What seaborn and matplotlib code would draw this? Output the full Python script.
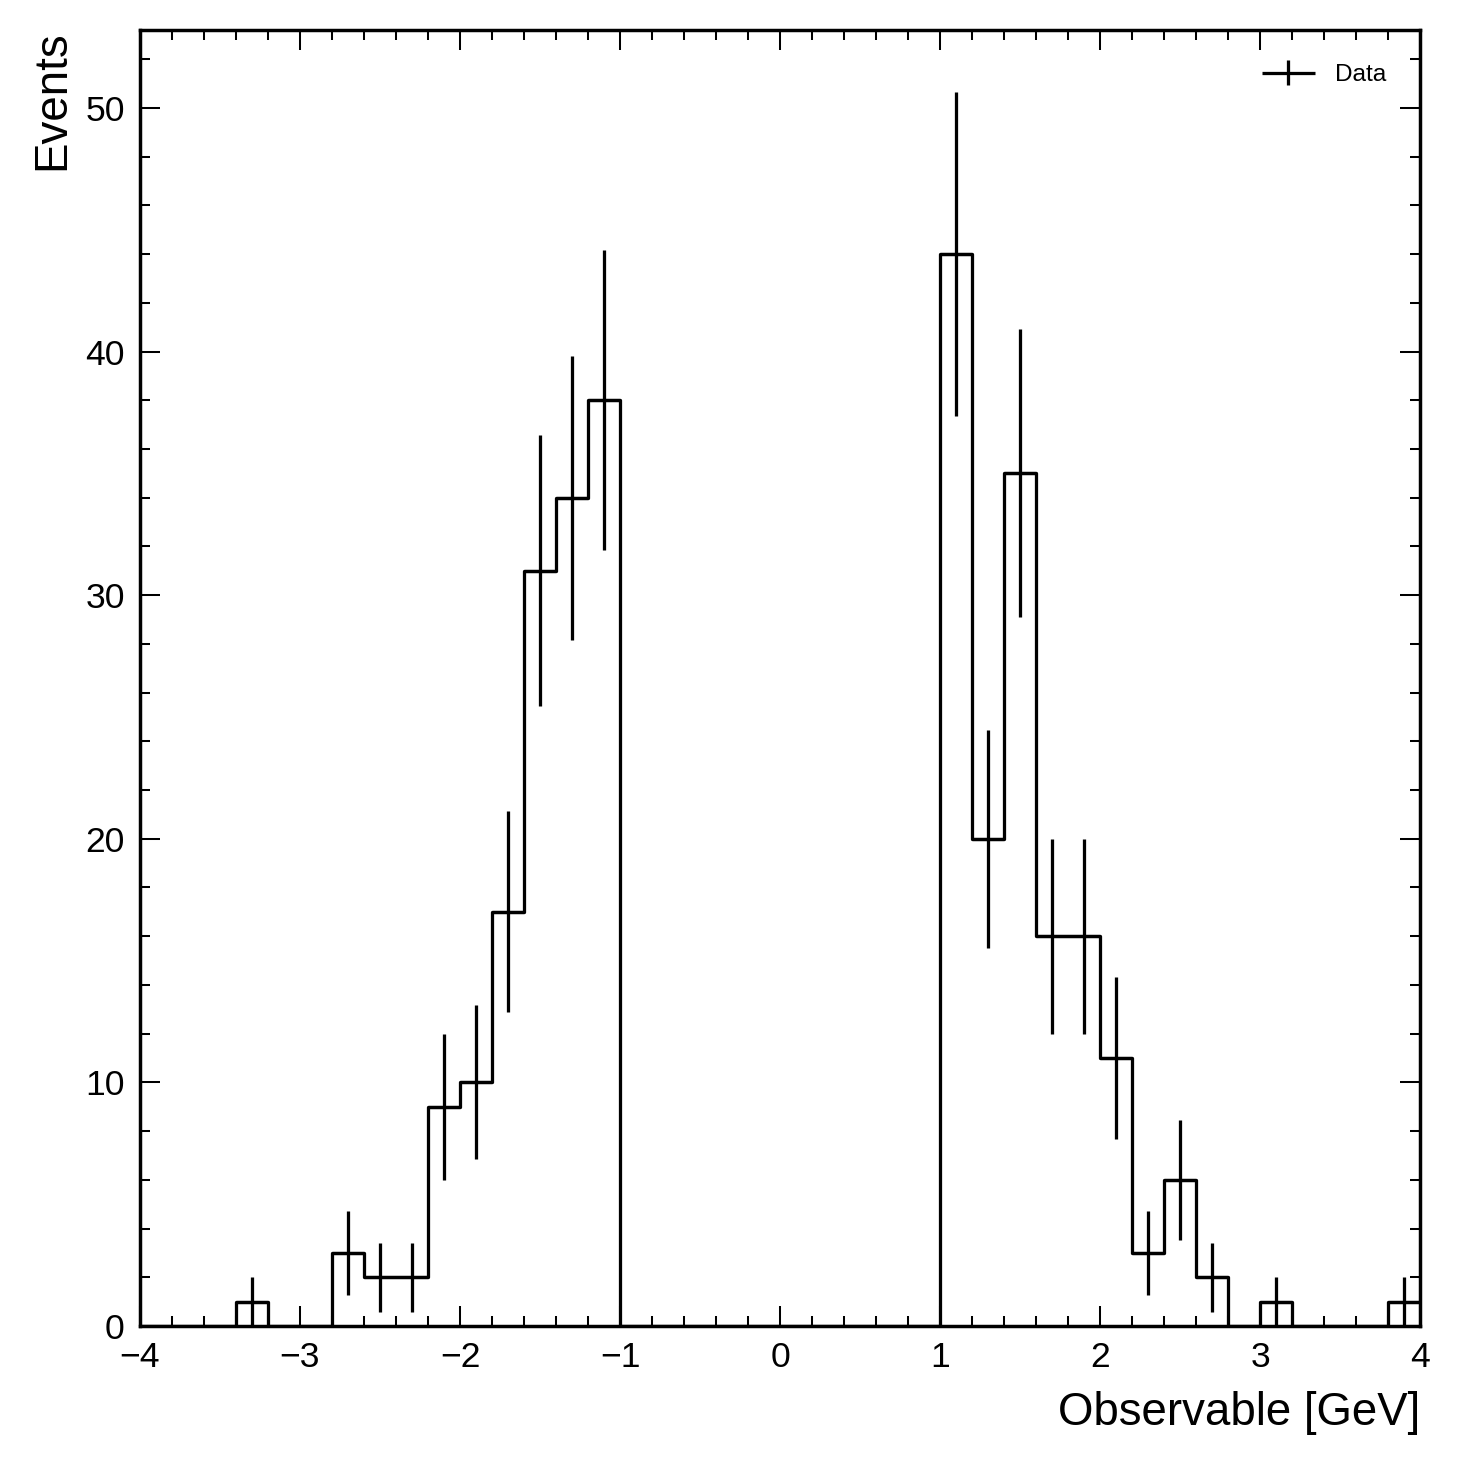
import numpy as np
import pandas as pd
import matplotlib
matplotlib.use("Agg")
import matplotlib.pyplot as plt
from matplotlib.ticker import MultipleLocator
from matplotlib.container import ErrorbarContainer
from matplotlib.legend_handler import HandlerErrorbar
import seaborn as sns

# ---- data ----
x_range = (-4.0, 4.0)
n_bins = 40
counts = [0, 0, 0, 1, 0, 0, 3, 2, 2, 9,
          10, 17, 31, 34, 38, 0, 0, 0, 0, 0,
          0, 0, 0, 0, 0, 44, 20, 35, 16, 16,
          11, 3, 6, 2, 0, 1, 0, 0, 0, 1]
x_label = "Observable [GeV]"
y_label = "Events"
series_label = "Data"

bin_edges = np.linspace(x_range[0], x_range[1], n_bins + 1)
bin_centers = (bin_edges[:-1] + bin_edges[1:]) / 2
df = pd.DataFrame({"x": bin_centers, "w": np.asarray(counts, dtype=float)})

sns.set_style("ticks")
plt.rcParams["font.family"] = ["Liberation Sans", "DejaVu Sans"]
plt.rcParams["text.color"] = "black"
plt.rcParams["axes.labelcolor"] = "black"

fig = plt.figure(figsize=(10, 10), dpi=146.1)
ax = fig.add_axes([0.0958, 0.0924, 0.8762, 0.8871])

sns.histplot(data=df, x="x", weights="w", bins=n_bins, binrange=x_range,
             element="step", fill=False, color="black", linewidth=1.6, ax=ax)

nz = df[df["w"] > 0]
half_w = (bin_edges[1] - bin_edges[0]) / 2
eb = ax.errorbar(nz["x"], nz["w"], yerr=np.sqrt(nz["w"]), xerr=half_w,
                 fmt="none", ecolor="black", elinewidth=1.6, label=series_label)

ax.set_xlim(-4, 4)
ax.set_ylim(0, 53.2)
ax.xaxis.set_major_locator(MultipleLocator(1))
ax.xaxis.set_minor_locator(MultipleLocator(0.2))
ax.yaxis.set_major_locator(MultipleLocator(10))
ax.yaxis.set_minor_locator(MultipleLocator(2))
ax.tick_params(which="both", direction="in", top=True, right=True,
               labelsize=17.5, colors="black")
ax.tick_params(which="major", length=10, width=1.0, pad=7.5)
ax.tick_params(which="minor", length=5, width=1.0)
for s in ax.spines.values():
    s.set_linewidth(1.7)
    s.set_color("black")
    s.set_visible(True)

ax.set_xlabel(x_label, fontsize=22.5, loc="right", labelpad=8.5, color="black")
ax.set_ylabel(y_label, fontsize=22.5, loc="top", labelpad=5.5, color="black")
ax.legend(handles=[eb], labels=[series_label], loc="upper right",
          frameon=False, fontsize=12, handlelength=2.2, borderaxespad=1.0,
          handler_map={ErrorbarContainer: HandlerErrorbar(xerr_size=1.1,
                                                          yerr_size=0.5)})

fig.savefig("out.png", dpi=146.1)
